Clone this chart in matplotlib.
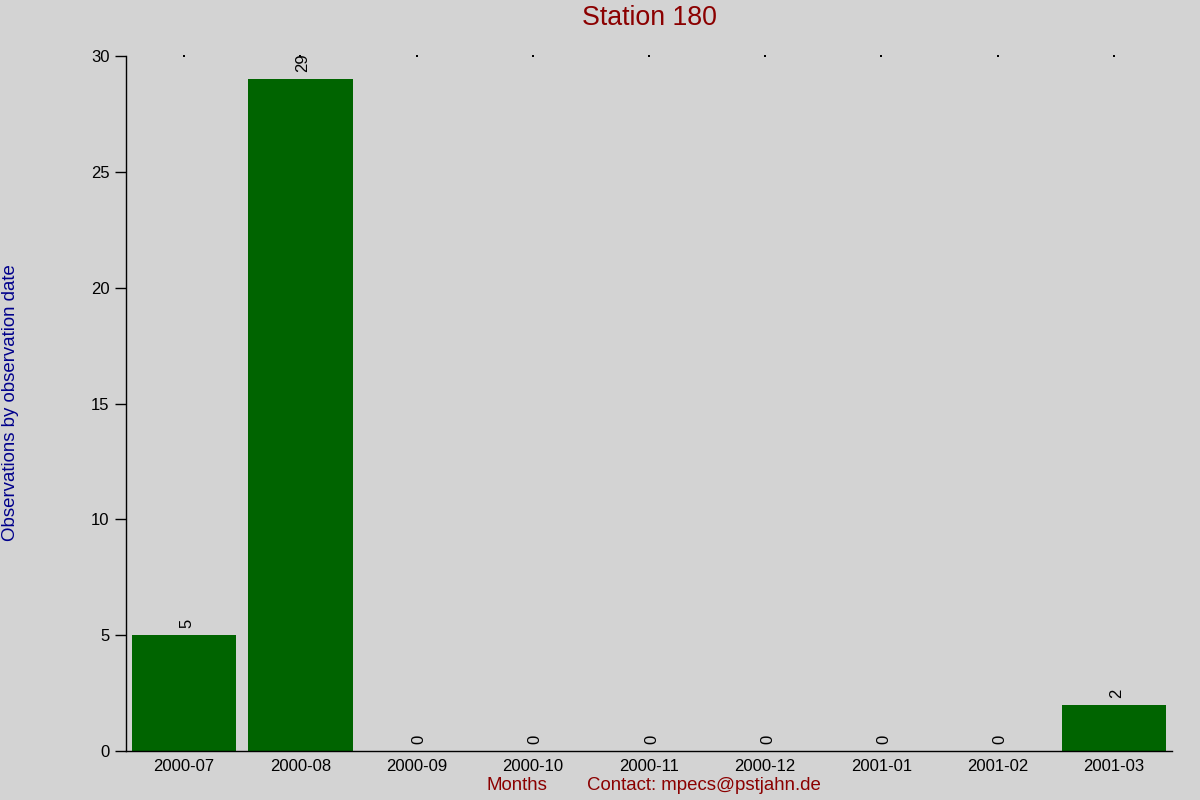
import matplotlib
matplotlib.use("Agg")
import matplotlib.pyplot as plt

months = ["2000-07", "2000-08", "2000-09", "2000-10", "2000-11",
          "2000-12", "2001-01", "2001-02", "2001-03"]
counts = [5, 29, 0, 0, 0, 0, 0, 0, 2]
yticks = [0, 5, 10, 15, 20, 25, 30]

bg = "#d3d3d3"
plt.rcParams["font.family"] = ["Liberation Sans", "DejaVu Sans"]

fig = plt.figure(figsize=(12, 8), dpi=100, facecolor=bg)
ax = fig.add_axes([126/1200, 1-751/800, (1172-126)/1200, (751-56)/800])
ax.set_facecolor(bg)

x = list(range(len(months)))
ax.bar(x, counts, width=0.9, color="#006400")
for xi, c in zip(x, counts):
    ax.annotate(str(c), (xi, c), xytext=(1.8, 5), textcoords="offset points",
                rotation=90, rotation_mode="anchor", ha="left", va="center",
                fontsize=12, color="black")
ax.scatter(x, [30]*len(x), s=1.2, color="black", marker="s", clip_on=False,
           zorder=1, linewidths=0)

ax.set_xlim(-0.5, 8.5)
ax.set_ylim(0, 30)
ax.set_xticks(x)
ax.set_xticklabels(months, fontsize=12)
ax.set_yticks(yticks)
ax.set_yticklabels([str(v) for v in yticks], fontsize=12)
ax.tick_params(axis="x", length=0, pad=6)
ax.tick_params(axis="y", length=8, width=1, pad=4)
for s in ["top", "right"]:
    ax.spines[s].set_visible(False)
ax.spines["left"].set_linewidth(1)
ax.spines["bottom"].set_linewidth(1)

fig.text(649/1200, 1-18/800, "Station 180", ha="center", va="center",
         fontsize=19.3, color="#8b0000")
fig.text(11/1200, 1-403/800, "Observations by observation date", rotation=90,
         ha="center", va="center", fontsize=13.4, color="#00008b")
fig.text(517/1200, 1-786/800, "Months", ha="center", va="center",
         fontsize=13.4, color="#8b0000")
fig.text(704/1200, 1-786/800, "Contact: mpecs@pstjahn.de", ha="center", va="center",
         fontsize=13.4, color="#8b0000")

fig.savefig("out.png", dpi=100, facecolor=bg)
